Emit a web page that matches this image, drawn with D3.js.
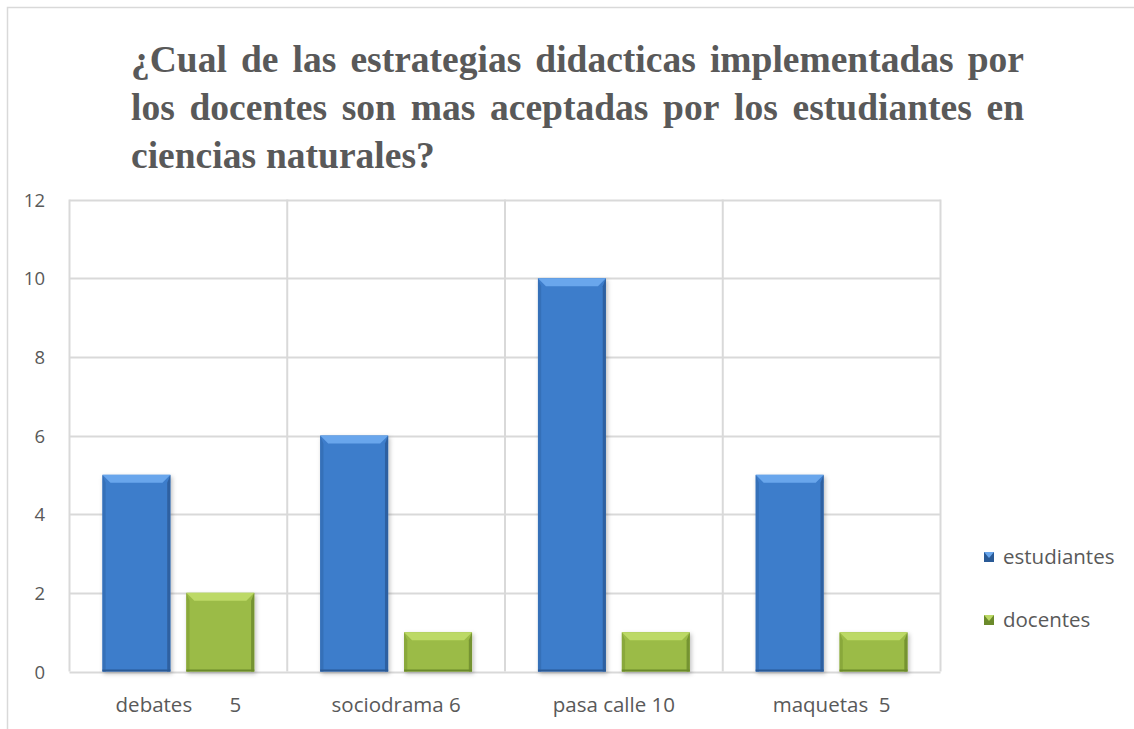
<!DOCTYPE html>
<html>
<head>
<meta charset="utf-8">
<script src="https://cdn.jsdelivr.net/npm/d3@7"></script>
<style>
  body { margin: 0; background: #fff; }
  svg { display: block; }
  .tick-label, .cat-label, .legend-label { font-family: "Open Sans", sans-serif; fill: #595959; }
  .title { font-family: "Liberation Serif", "Times New Roman", serif; font-weight: bold; fill: #595959; }
</style>
</head>
<body>
<svg id="chart"></svg>
<script>
let width = 1134;
let height = 729;

// datos
let categories = ["debates       5", "sociodrama 6", "pasa calle 10", "maquetas  5"];
let seriesNames = ["estudiantes", "docentes"];
let estudiantes = [5, 6, 10, 5];
let docentes = [2, 1, 1, 1];
let yTicks = [0, 2, 4, 6, 8, 10, 12];
let titleLines = [
    "¿Cual de las estrategias didacticas implementadas por",
    "los docentes son mas aceptadas por los estudiantes en",
    "ciencias naturales?"
];

let colors = {
    estudiantes: { main: "#3d7dcb", light: "#69a6ec", dark: "#2a5a96", side: "#3670b8" },
    docentes: { main: "#9bbb46", light: "#bcd966", dark: "#6b8a2b", side: "#89a83b" }
};

function main() {
    let svg = d3.select('#chart')
        .attr('width', width)
        .attr('height', height);

    // marco
    svg.append('rect')
        .attr('x', 7.5).attr('y', 7.5)
        .attr('width', width + 10).attr('height', height + 10)
        .attr('fill', 'none')
        .attr('stroke', '#d9d9d9')
        .attr('stroke-width', 1.5);

    // titulo justificado
    let tx0 = 131, tx1 = 1024;
    let title = svg.append('g');
    titleLines.forEach((line, i) => {
        let words = line.split(' ');
        let y = 72 + i * 48;
        let nodes = words.map(w => title.append('text')
            .attr('class', 'title')
            .attr('font-size', 37.5)
            .attr('y', y)
            .text(w));
        let widths = nodes.map(n => n.node().getComputedTextLength());
        let total = d3.sum(widths);
        let gap = (i < titleLines.length - 1) ? (tx1 - tx0 - total) / (words.length - 1) : 10;
        let x = tx0;
        nodes.forEach((n, k) => {
            n.attr('x', x);
            x += widths[k] + gap;
        });
    });

    let plot = { left: 69.5, right: 940.5, top: 199.5, bottom: 671.5 };

    let x = d3.scaleBand()
        .domain(categories)
        .range([plot.left, plot.right])
        .paddingInner(0).paddingOuter(0);

    let xInner = d3.scaleBand()
        .domain(seriesNames)
        .range([0, x.bandwidth()])
        .paddingInner(0.19)
        .paddingOuter(0.393);

    let y = d3.scaleLinear()
        .domain([0, 12])
        .range([plot.bottom, plot.top]);

    // rejilla horizontal
    svg.append('g')
        .selectAll('line')
        .data(yTicks)
        .join('line')
        .attr('x1', plot.left).attr('x2', plot.right)
        .attr('y1', d => Math.round(y(d)) + 0.5).attr('y2', d => Math.round(y(d)) + 0.5)
        .attr('stroke', '#d9d9d9')
        .attr('stroke-width', 2);

    // rejilla vertical
    let bounds = categories.map(c => x(c)).concat([plot.right]);
    svg.append('g')
        .selectAll('line')
        .data(bounds)
        .join('line')
        .attr('x1', d => d).attr('x2', d => d)
        .attr('y1', plot.top).attr('y2', plot.bottom)
        .attr('stroke', '#d9d9d9')
        .attr('stroke-width', 2);

    // etiquetas eje y
    svg.append('g')
        .selectAll('text')
        .data(yTicks)
        .join('text')
        .attr('class', 'tick-label')
        .attr('x', 45)
        .attr('y', d => y(d) + 7)
        .attr('text-anchor', 'end')
        .attr('font-size', 18.5)
        .text(d => d);

    // etiquetas categorias
    svg.append('g')
        .selectAll('text')
        .data(categories)
        .join('text')
        .attr('class', 'cat-label')
        .attr('x', d => x(d) + x.bandwidth() / 2)
        .attr('y', 712)
        .attr('text-anchor', 'middle')
        .attr('font-size', 20.5)
        .attr('xml:space', 'preserve')
        .style('white-space', 'pre')
        .text(d => d);

    // filtro sombra
    let defs = svg.append('defs');
    let f = defs.append('filter').attr('id', 'shadow').attr('x', '-20%').attr('y', '-20%').attr('width', '140%').attr('height', '140%');
    f.append('feDropShadow').attr('dx', 1.5).attr('dy', 2).attr('stdDeviation', 2).attr('flood-color', '#000').attr('flood-opacity', 0.25);

    let rows = [];
    categories.forEach((c, i) => {
        rows.push({ cat: c, s: 'estudiantes', v: estudiantes[i] });
        rows.push({ cat: c, s: 'docentes', v: docentes[i] });
    });

    let bars = svg.append('g')
        .selectAll('g')
        .data(rows)
        .join('g')
        .attr('filter', 'url(#shadow)');

    bars.each(function (d) {
        let g = d3.select(this);
        let x0 = x(d.cat) + xInner(d.s);
        let w = xInner.bandwidth();
        let y0 = y(d.v);
        let y1 = y(0);
        let h = y1 - y0;
        let b = 8;
        let c = colors[d.s];
        g.append('rect').attr('x', x0).attr('y', y0).attr('width', w).attr('height', h).attr('fill', c.main);
        // bisel superior
        g.append('polygon')
            .attr('points', [[x0, y0], [x0 + w, y0], [x0 + w - b, y0 + b], [x0 + b, y0 + b]].join(' '))
            .attr('fill', c.light);
        // laterales
        g.append('polygon')
            .attr('points', [[x0, y0], [x0 + b * 0.4, y0 + b], [x0 + b * 0.4, y1], [x0, y1]].join(' '))
            .attr('fill', c.side);
        g.append('polygon')
            .attr('points', [[x0 + w, y0], [x0 + w - b * 0.4, y0 + b], [x0 + w - b * 0.4, y1], [x0 + w, y1]].join(' '))
            .attr('fill', c.dark).attr('opacity', 0.8);
        g.append('rect').attr('x', x0).attr('y', y1 - 2).attr('width', w).attr('height', 2).attr('fill', c.dark);
    });

    // leyenda
    let legend = svg.append('g');
    seriesNames.forEach((s, i) => {
        let ly = 552 + i * 63;
        let c = colors[s];
        legend.append('rect').attr('x', 984).attr('y', ly).attr('width', 10).attr('height', 10).attr('fill', c.dark);
        legend.append('polygon')
            .attr('points', [[984, ly], [994, ly], [989, ly + 6]].join(' '))
            .attr('fill', c.light);
        legend.append('text')
            .attr('class', 'legend-label')
            .attr('x', 1003).attr('y', ly + 12)
            .attr('font-size', 20.5)
            .text(s);
    });
}
main();
</script>
</body>
</html>
